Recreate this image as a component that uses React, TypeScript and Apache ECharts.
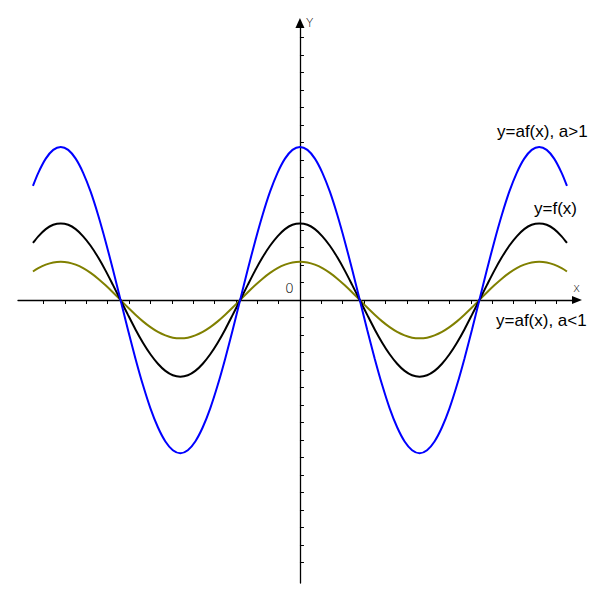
import React, { useEffect, useRef } from "react";
import * as echarts from "echarts";

// x positions (in x-tick units) at which the curves were read
const xs = [
  -12.5, -12.25, -11.9, -11.55, -11.2, -10.85, -10.5, -10.15, -9.8, -9.45, -9.1, -8.75,
  -8.4, -8.05, -7.7, -7.35, -7.0, -6.65, -6.3, -5.95, -5.6, -5.25, -4.9, -4.55, -4.2,
  -3.85, -3.5, -3.15, -2.8, -2.45, -2.1, -1.75, -1.4, -1.05, -0.7, -0.35, 0,
  0.35, 0.7, 1.05, 1.4, 1.75, 2.1, 2.45, 2.8, 3.15, 3.5, 3.85, 4.2, 4.55, 4.9, 5.25,
  5.6, 5.95, 6.3, 6.65, 7.0, 7.35, 7.7, 8.05, 8.4, 8.75, 9.1, 9.45, 9.8, 10.15, 10.5,
  10.85, 11.2, 11.55, 11.9, 12.25, 12.5,
];

// y = a f(x), a > 1 (blue)
const bigValues = [
  6.52, 7.27, 8.08, 8.58, 8.75,
  8.58, 8.08, 7.27, 6.19, 4.86, 3.35, 1.71, 0, -1.71, -3.35, -4.86, -6.19, -7.27, -8.08, -8.58, -8.75,
  -8.58, -8.08, -7.27, -6.19, -4.86, -3.35, -1.71, 0, 1.71, 3.35, 4.86, 6.19, 7.27, 8.08, 8.58, 8.75,
  8.58, 8.08, 7.27, 6.19, 4.86, 3.35, 1.71, 0, -1.71, -3.35, -4.86, -6.19, -7.27, -8.08, -8.58, -8.75,
  -8.58, -8.08, -7.27, -6.19, -4.86, -3.35, -1.71, 0, 1.71, 3.35, 4.86, 6.19, 7.27, 8.08, 8.58, 8.75,
  8.58, 8.08, 7.27, 6.52,
];

// y = f(x) (black)
const baseValues = [
  3.26, 3.64, 4.05, 4.3, 4.38,
  4.3, 4.05, 3.64, 3.1, 2.44, 1.68, 0.85, 0, -0.85, -1.68, -2.44, -3.1, -3.64, -4.05, -4.3, -4.38,
  -4.3, -4.05, -3.64, -3.1, -2.44, -1.68, -0.85, 0, 0.85, 1.68, 2.44, 3.1, 3.64, 4.05, 4.3, 4.38,
  4.3, 4.05, 3.64, 3.1, 2.44, 1.68, 0.85, 0, -0.85, -1.68, -2.44, -3.1, -3.64, -4.05, -4.3, -4.38,
  -4.3, -4.05, -3.64, -3.1, -2.44, -1.68, -0.85, 0, 0.85, 1.68, 2.44, 3.1, 3.64, 4.05, 4.3, 4.38,
  4.3, 4.05, 3.64, 3.26,
];

// y = a f(x), a < 1 (olive)
const smallValues = [
  1.63, 1.82, 2.02, 2.15, 2.19,
  2.15, 2.02, 1.82, 1.55, 1.22, 0.84, 0.43, 0, -0.43, -0.84, -1.22, -1.55, -1.82, -2.02, -2.15, -2.19,
  -2.15, -2.02, -1.82, -1.55, -1.22, -0.84, -0.43, 0, 0.43, 0.84, 1.22, 1.55, 1.82, 2.02, 2.15, 2.19,
  2.15, 2.02, 1.82, 1.55, 1.22, 0.84, 0.43, 0, -0.43, -0.84, -1.22, -1.55, -1.82, -2.02, -2.15, -2.19,
  -2.15, -2.02, -1.82, -1.55, -1.22, -0.84, -0.43, 0, 0.43, 0.84, 1.22, 1.55, 1.82, 2.02, 2.15, 2.19,
  2.15, 2.02, 1.82, 1.63,
];

const xTicks = [-12, -11, -10, -9, -8, -7, -6, -5, -4, -3, -2, -1, 1, 2, 3, 4, 5, 6, 7, 8, 9, 10, 11, 12];
const yTicks = [
  -15, -14, -13, -12, -11, -10, -9, -8, -7, -6, -5, -4, -3, -2, -1,
  1, 2, 3, 4, 5, 6, 7, 8, 9, 10, 11, 12, 13, 14, 15,
];

const curveNames = ["y=af(x), a>1", "y=f(x)", "y=af(x), a<1"];
const curveColors = ["#0000ff", "#000000", "#808000"];

const pairs = (vals: number[]) => xs.map((x, i) => [x, vals[i]]);

export default function App() {
  const ref = useRef<HTMLDivElement>(null);

  useEffect(() => {
    if (!ref.current) return;
    const chart = echarts.init(ref.current, null, { renderer: "svg" });
    const seriesVals = [bigValues, baseValues, smallValues];
    const axisLineStyle = { color: "#000", width: 1.3 };
    const thinFont = { fontFamily: "DejaVu Sans", fontWeight: 200 as any };
    const labelFont = { fontFamily: "Liberation Sans", fontSize: 17, fill: "#000" };
    chart.setOption({
      animation: false,
      backgroundColor: "#fff",
      grid: { left: 18, right: 23, top: 23, bottom: 17, containLabel: false },
      xAxis: {
        type: "value",
        min: -13.2,
        max: 12.97,
        axisLine: {
          onZero: true,
          lineStyle: axisLineStyle,
          symbol: ["none", "triangle"],
          symbolSize: [8, 10],
        },
        axisTick: { show: true, length: 4, customValues: xTicks, lineStyle: { color: "#000", width: 1 } },
        axisLabel: { show: false },
        splitLine: { show: false },
      },
      yAxis: {
        type: "value",
        min: -16.17,
        max: 15.83,
        axisLine: {
          onZero: true,
          lineStyle: axisLineStyle,
          symbol: ["none", "triangle"],
          symbolSize: [9, 10],
        },
        axisTick: {
          show: true,
          inside: true,
          length: 4,
          customValues: yTicks,
          lineStyle: { color: "#000", width: 1 },
        },
        axisLabel: { show: false },
        splitLine: { show: false },
      },
      series: seriesVals.map((vals, i) => ({
        type: "line",
        name: curveNames[i],
        data: pairs(vals),
        smooth: 0.3,
        showSymbol: false,
        symbol: "none",
        z: 3 - i,
        lineStyle: { color: curveColors[i], width: 2 },
      })),
      graphic: [
        { type: "text", left: 497, top: 123, style: { text: curveNames[0], ...labelFont } },
        { type: "text", left: 534, top: 200, style: { text: curveNames[1], ...labelFont } },
        { type: "text", left: 496, top: 312, style: { text: curveNames[2], ...labelFont } },
        {
          type: "text",
          left: 285,
          top: 281,
          style: { text: "0", fontSize: 14, fill: "#000", ...thinFont },
        },
        {
          type: "text",
          left: 573,
          top: 282,
          style: { text: "x", fontSize: 12, fill: "#000", ...thinFont },
        },
        {
          type: "text",
          left: 306,
          top: 17,
          style: { text: "Y", fontSize: 12, fill: "#000", ...thinFont },
        },
      ],
    });
    return () => chart.dispose();
  }, []);

  return (
    <div
      ref={ref}
      style={{ position: "fixed", left: 0, top: 0, width: 600, height: 600, background: "#fff" }}
    />
  );
}
